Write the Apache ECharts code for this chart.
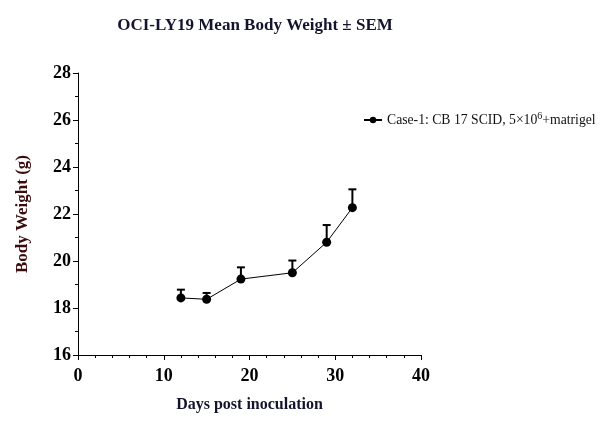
<!DOCTYPE html>
<html>
<head>
<meta charset="utf-8">
<script src="https://cdn.jsdelivr.net/npm/echarts@6/dist/echarts.min.js"></script>
<style>html,body{margin:0;padding:0;background:#fff;}#c{width:606px;height:444px;}</style>
</head>
<body>
<div id="c"></div>
<script>
var days = [12, 15, 19, 25, 29, 32];
var meanWeight = [18.43, 18.37, 19.23, 19.50, 20.80, 22.27];
var semWeight = [0.35, 0.27, 0.50, 0.52, 0.73, 0.78];
var xTicks = [0, 10, 20, 30, 40];
var yTicks = [16, 18, 20, 22, 24, 26, 28];
var seriesName = 'Case-1: CB 17 SCID, 5×10⁶+matrigel';

var lineData = days.map(function (d, i) { return [d, meanWeight[i]]; });
var errData = days.map(function (d, i) { return [d, meanWeight[i], semWeight[i]]; });

var font = '"Liberation Serif", "Times New Roman", serif';
var chart = echarts.init(document.getElementById('c'));
chart.setOption({
  backgroundColor: '#fff',
  animation: false,
  title: {
    text: 'OCI-LY19 Mean Body Weight ± SEM',
    left: 250, top: 12, textAlign: 'center',
    textStyle: { fontFamily: font, fontWeight: 'bold', fontSize: 17, color: '#14142e' }
  },
  legend: {
    data: [seriesName],
    left: 358, top: 106,
    itemWidth: 18, itemHeight: 8, itemGap: 4,
    formatter: function () { return '{a|Case-1: CB 17 SCID, 5×10}{s|6}{a|+matrigel}'; },
    textStyle: {
      fontFamily: font, fontSize: 13.7, color: '#111',
      rich: {
        a: { fontFamily: font, fontSize: 13.7, color: '#111' },
        s: { fontFamily: font, fontSize: 10, color: '#111', padding: [0, 0, 8, 0] }
      }
    }
  },
  grid: { left: 78, right: 185, top: 73, bottom: 89 },
  xAxis: {
    type: 'value', min: xTicks[0], max: xTicks[xTicks.length - 1], interval: 10,
    name: 'Days post inoculation', nameLocation: 'middle', nameGap: 42,
    nameTextStyle: { fontFamily: font, fontWeight: 'bold', fontSize: 16, color: '#14142e' },
    axisLine: { lineStyle: { color: '#000', width: 1 } },
    axisTick: { show: true, length: 5, lineStyle: { color: '#000' } },
    minorTick: { show: true, splitNumber: 5, length: 3, lineStyle: { color: '#000' } },
    splitLine: { show: false },
    axisLabel: { fontFamily: font, fontWeight: 'bold', fontSize: 18, color: '#000', margin: 12 }
  },
  yAxis: {
    type: 'value', min: yTicks[0], max: yTicks[yTicks.length - 1], interval: 2,
    name: 'Body Weight (g)', nameLocation: 'middle', nameGap: 47,
    nameTextStyle: { fontFamily: font, fontWeight: 'bold', fontSize: 17, color: '#3a0c0c' },
    axisLine: { show: true, lineStyle: { color: '#000', width: 1 } },
    axisTick: { show: true, length: 5, lineStyle: { color: '#000' } },
    minorTick: { show: true, splitNumber: 2, length: 3, lineStyle: { color: '#000' } },
    splitLine: { show: false },
    axisLabel: { fontFamily: font, fontWeight: 'bold', fontSize: 18, color: '#000', margin: 7 }
  },
  series: [
    {
      name: seriesName, type: 'line', data: lineData,
      symbol: 'circle', symbolSize: 9,
      lineStyle: { color: '#000', width: 1 },
      itemStyle: { color: '#000' },
      z: 3
    },
    {
      name: 'err', type: 'custom', data: errData, z: 2,
      renderItem: function (params, api) {
        var x = api.value(0), m = api.value(1), s = api.value(2);
        var p0 = api.coord([x, m]);
        var p1 = api.coord([x, m + s]);
        var hw = 4;
        return {
          type: 'group',
          children: [
            { type: 'line', shape: { x1: p0[0], y1: p0[1], x2: p1[0], y2: p1[1] }, style: { stroke: '#000', lineWidth: 2 } },
            { type: 'line', shape: { x1: p1[0] - hw, y1: p1[1], x2: p1[0] + hw, y2: p1[1] }, style: { stroke: '#000', lineWidth: 2 } }
          ]
        };
      }
    }
  ]
});
</script>
</body>
</html>
